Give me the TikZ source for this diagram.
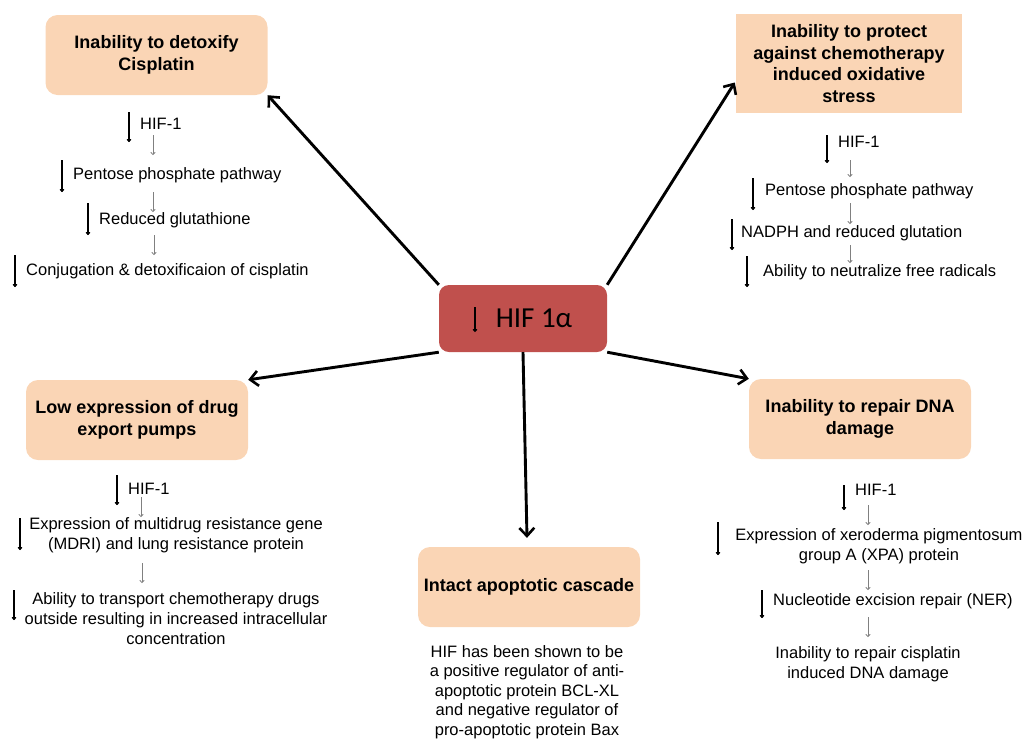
\documentclass[tikz,border=0pt]{standalone}
\usepackage{fontspec}
\setmainfont{Liberation Sans}
\newfontfamily\carl{Carlito}
\usetikzlibrary{arrows.meta}
\definecolor{peach}{RGB}{250,213,181}
\definecolor{hifred}{RGB}{192,80,77}
\begin{document}
\begin{tikzpicture}[x=1pt,y=-1pt,
 box/.style={fill=peach, rounded corners=12pt, align=center, font=\bfseries\fontsize{18}{21.5}\selectfont, inner sep=0pt, minimum width=222pt, minimum height=80pt},
 big/.style={line width=2.9pt, -{Straight Barb[length=8pt,width=15pt,line width=2.6pt]}},
 dn/.style={line width=1.3pt, -{To[length=3pt,width=4.5pt]}},
 gdn/.style={gray, line width=0.8pt, -{To[length=3pt,width=5pt]}},
 txt/.style={font=\fontsize{16.5}{20}\selectfont, inner sep=0pt},
 ltxt/.style={txt, anchor=west},
 ctxt/.style={txt, align=center},
]
\useasboundingbox (0,0) rectangle (1022,740);

% boxes
\node[box] (b1) at (156.5,55) {Inability to detoxify\\Cisplatin};
\node[box, rounded corners=0pt, minimum width=226pt, minimum height=99pt] (b2) at (849,63.5) {Inability to protect\\against chemotherapy\\induced oxidative\\stress};
\node[fill=hifred, rounded corners=10pt, minimum width=168pt, minimum height=67pt, inner sep=0pt, font=\carl\fontsize{29}{30}\selectfont] (hif) at (523,318.5) {\hspace*{22pt}HIF 1α};
\node[box] (b3) at (137,420) {Low expression of drug\\export pumps};
\node[box] (b4) at (860,419) {Inability to repair DNA\\damage};
\node[box] (b5) at (529,587) {Intact apoptotic cascade};

\draw[line width=1.1pt, -{To[length=3pt,width=4.5pt]}] (475,307) -- (475,332);

% main arrows
\draw[big] (hif.north west) -- (b1.south east);
\draw[big] (hif.north east) -- ([xshift=-1pt,yshift=-19pt]b2.west);
\draw[big] (hif.south west) -- (b3.north east);
\draw[big] (hif.south east) -- (b4.north west);
\draw[big] (hif.south) -- ([xshift=-2pt,yshift=9pt]b5.north);

% top-left list
\draw[dn] (129,112) -- (129,142);
\node[ltxt] (t1a) at (140,124) {HIF-1};
\draw[gdn] (153,135) -- (153,155);
\draw[dn] (62,160) -- (62,192);
\node[ltxt] (t1b) at (73,175) {Pentose phosphate pathway};
\draw[gdn] (153,192) -- (153,212);
\draw[dn] (88,203) -- (88,235);
\node[ltxt] (t1c) at (99,220) {Reduced glutathione};
\draw[gdn] (154,235) -- (154,255);
\draw[dn] (15,255) -- (15,287);
\node[ltxt] (t1d) at (26,271) {Conjugation \& detoxificaion of cisplatin};

% top-right list
\draw[dn] (827,135) -- (827,163);
\node[ltxt] (t2a) at (838,142) {HIF-1};
\draw[gdn] (850,160) -- (850,177);
\draw[dn] (753,178) -- (753,210);
\node[ltxt] (t2b) at (765,191) {Pentose phosphate pathway};
\draw[gdn] (850,203) -- (850,224);
\draw[dn] (732,219) -- (732,250);
\node[ltxt] (t2c) at (741,233) {NADPH and reduced glutation};
\draw[gdn] (850,245) -- (850,263);
\draw[dn] (747,256) -- (747,287);
\node[ltxt] (t2d) at (763,272) {Ability to neutralize free radicals};

% mid-left list
\draw[dn] (117,475) -- (117,505);
\node[ltxt] (t3a) at (128,489) {HIF-1};
\draw[gdn] (141,497) -- (141,517);
\draw[dn] (20,518) -- (20,550);
\node[ctxt] (t3b) at (176,535.5) {Expression of multidrug resistance gene\\(MDRI) and lung resistance protein};
\draw[gdn] (142,563) -- (142,583);
\draw[dn] (14,590) -- (14,620);
\node[ctxt] (t3c) at (176,618.5) {Ability to transport chemotherapy drugs\\outside resulting in increased intracellular\\concentration};

% mid-right list
\draw[dn] (844,485) -- (844,510);
\node[ltxt] (t4a) at (855,490) {HIF-1};
\draw[gdn] (868,505) -- (868,525);
\draw[dn] (718,522) -- (718,555);
\node[ctxt] (t4b) at (879,546) {Expression of xeroderma pigmentosum\\group A (XPA) protein};
\draw[gdn] (868,570) -- (868,590);
\draw[dn] (762,590) -- (762,618);
\node[ltxt] (t4c) at (773,601) {Nucleotide excision repair (NER)};
\draw[gdn] (868,617) -- (868,637);
\node[ctxt] (t4d) at (868,664) {Inability to repair cisplatin\\induced DNA damage};

% bottom-center text
\node[ctxt, font=\fontsize{16.5}{19.6}\selectfont] (t5) at (527,692) {HIF has been shown to be\\a positive regulator of anti-\\apoptotic protein BCL-XL\\and negative regulator of\\pro-apoptotic protein Bax};
\end{tikzpicture}
\end{document}
